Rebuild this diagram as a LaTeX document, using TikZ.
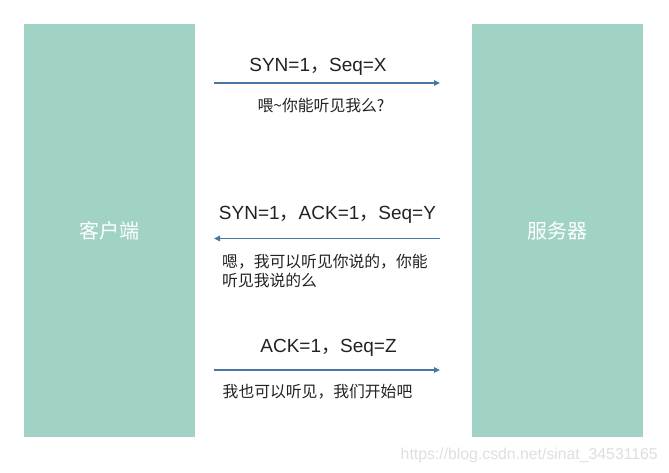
\documentclass[tikz,border=0pt]{standalone}
\usepackage{fontspec}
\setmainfont{Liberation Sans}
\newfontfamily\cjk{Noto Sans CJK SC}
\usetikzlibrary{arrows.meta}
\definecolor{boxfill}{HTML}{A0D3C5}
\definecolor{arrowblue}{HTML}{4A76A6}
\definecolor{txt}{HTML}{222222}
\begin{document}
\begin{tikzpicture}[x=1pt,y=-1pt,
  sidebox/.style={fill=boxfill,draw=none,minimum width=171pt,minimum height=413pt,inner sep=0pt,
    text=white,font=\cjk\fontsize{20}{24}\selectfont},
  msgline/.style={draw=arrowblue,line width=1.5pt,-{Triangle[length=6pt,width=5.5pt]}},
  msglabel/.style={text=txt,inner sep=0pt,font=\fontsize{19}{22}\selectfont},
  msgnote/.style={text=txt,inner sep=0pt,font=\cjk\fontsize{15.8}{18.5}\selectfont,align=left},
  wmark/.style={text=gray!25,inner sep=0pt,font=\fontsize{15.8}{18}\selectfont}]
\useasboundingbox (0,0) rectangle (669,473);
\fill[white] (0,0) rectangle (669,473);
\node[sidebox] (client) at (109.5,230.5) {客户端};
\node[sidebox] (server) at (557.5,230.5) {服务器};
% arrow end points
\coordinate (m1s) at (214,83);
\coordinate (m1e) at (440,83);
\coordinate (m2s) at (440,238.5);
\coordinate (m2e) at (214,238.5);
\coordinate (m3s) at (214,370);
\coordinate (m3e) at (440,370);
\draw[msgline] (m1s) -- (m1e);
\draw[msgline] (m2s) -- (m2e);
\draw[msgline] (m3s) -- (m3e);
\node[msglabel] (l1) at (318,67) {SYN=1{\cjk ，}Seq=X};
\node[msgnote] (n1) at (321,106) {喂\char`~你能听见我么?};
\node[msglabel] (l2) at (327.5,214.5) {SYN=1{\cjk ，}ACK=1{\cjk ，}Seq=Y};
\node[msgnote,anchor=west] (n2) at (222,271) {嗯，我可以听见你说的，你能\\听见我说的么};
\node[msglabel] (l3) at (328.5,347.5) {ACK=1{\cjk ，}Seq=Z};
\node[msgnote,anchor=west] (n3) at (222.5,392) {我也可以听见，我们开始吧};
\node[wmark,anchor=east] (wm) at (658,455) {https://blog.csdn.net/sinat\_34531165};
\end{tikzpicture}
\end{document}
